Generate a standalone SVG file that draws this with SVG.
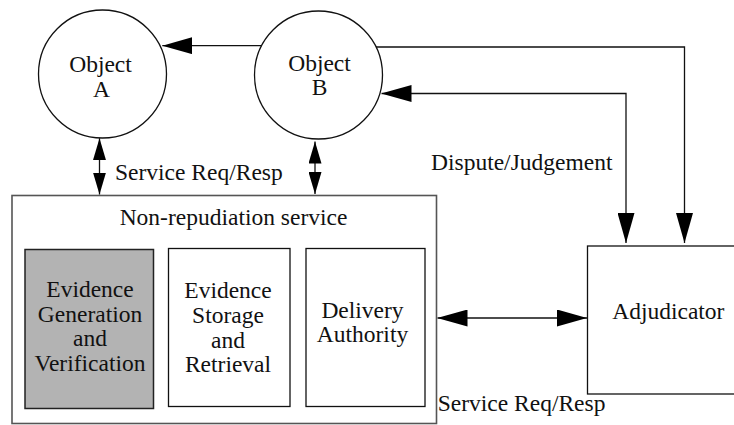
<svg xmlns="http://www.w3.org/2000/svg" width="734" height="425" viewBox="0 0 734 425">
<style>
  .t { font-family: 'Liberation Serif', 'DejaVu Serif', serif; font-size: 23.5px; fill: #111; }
  .m { text-anchor: middle; }
  .node { fill: #fff; stroke: #111; stroke-width: 1.3; }
  .gray { fill: #b3b3b3; stroke: #222; stroke-width: 1.5; }
  .outer { fill: #fff; stroke: #555; stroke-width: 1.6; }
  .c { fill: none; stroke: #111; stroke-width: 1.3; }
</style>
<defs>
  <marker id="big" markerUnits="userSpaceOnUse" markerWidth="30" markerHeight="17" refX="30" refY="8.5" orient="auto-start-reverse">
    <path d="M0,0 L30,8.5 L0,17 z" fill="#000"/>
  </marker>
  <marker id="small" markerUnits="userSpaceOnUse" markerWidth="22" markerHeight="13" refX="22" refY="6.5" orient="auto-start-reverse">
    <path d="M0,0 L22,6.5 L0,13 z" fill="#000"/>
  </marker>
</defs>
<rect width="734" height="425" fill="#fff"/>

<g id="service">
  <rect class="outer" x="12" y="195.5" width="424.5" height="228"/>
  <text class="t m" x="233.5" y="225" font-family="Liberation Serif, serif">Non-repudiation service</text>
</g>
<g id="evgen">
  <rect class="gray" x="25" y="249.5" width="128.5" height="159"/>
  <text class="t m" x="90" y="296.7">Evidence</text>
  <text class="t m" x="90" y="321.7">Generation</text>
  <text class="t m" x="90" y="345.7">and</text>
  <text class="t m" x="90" y="370.7">Verification</text>
</g>
<g id="evstore">
  <rect class="node" x="168.5" y="248.5" width="121.5" height="158"/>
  <text class="t m" x="228" y="298.3">Evidence</text>
  <text class="t m" x="228" y="323">Storage</text>
  <text class="t m" x="228" y="347.5">and</text>
  <text class="t m" x="228" y="372">Retrieval</text>
</g>
<g id="delivery">
  <rect class="node" x="306" y="248.5" width="119" height="158"/>
  <text class="t m" x="362.5" y="318">Delivery</text>
  <text class="t m" x="362.5" y="341.5">Authority</text>
</g>
<g id="adjudicator">
  <rect class="node" x="587.5" y="246" width="160" height="148"/>
  <text class="t m" x="668.3" y="319.3">Adjudicator</text>
</g>
<g id="objA">
  <circle class="node" cx="102.5" cy="74" r="64"/>
  <text class="t m" x="100.5" y="72">Object</text>
  <text class="t m" x="101.5" y="97">A</text>
</g>
<g id="objB">
  <circle class="node" cx="318.5" cy="75" r="64"/>
  <text class="t m" x="319.5" y="70.5">Object</text>
  <text class="t m" x="319.5" y="95">B</text>
</g>

<g id="connectors">
  <line class="c" x1="261.5" y1="45.7" x2="162.3" y2="45.7" marker-end="url(#big)"/>
  <polyline class="c" points="376,47 684.5,47 684.5,243" marker-end="url(#big)"/>
  <polyline class="c" points="626,243 626,93.5 381.5,93.5" marker-start="url(#big)" marker-end="url(#big)"/>
  <line class="c" x1="437.5" y1="318" x2="587" y2="318" marker-start="url(#big)" marker-end="url(#big)"/>
  <line class="c" x1="99.5" y1="138.2" x2="99.5" y2="194.5" marker-start="url(#small)" marker-end="url(#small)"/>
  <line class="c" x1="315" y1="141.5" x2="315" y2="194" marker-start="url(#small)" marker-end="url(#small)"/>
</g>

<text class="t" x="115" y="180">Service Req/Resp</text>
<text class="t" x="431" y="170">Dispute/Judgement</text>
<text class="t" x="437.7" y="411">Service Req/Resp</text>
</svg>
